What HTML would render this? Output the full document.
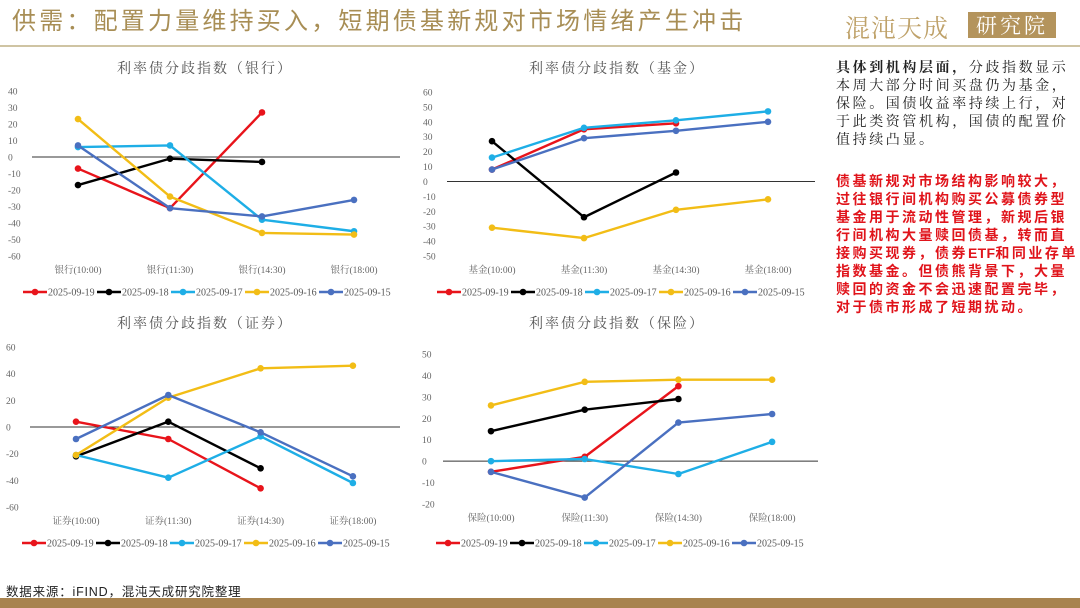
<!DOCTYPE html>
<html><head><meta charset="utf-8">
<style>
html,body{margin:0;padding:0;background:#fff;}
#root{position:relative;width:1080px;height:608px;overflow:hidden;background:#fff;font-family:"Liberation Serif","Noto Serif CJK SC",serif;}
.title{position:absolute;left:12px;top:6px;font-family:"Liberation Sans","Noto Sans CJK SC",sans-serif;font-size:24px;letter-spacing:3.2px;color:#a88e55;white-space:nowrap;line-height:32px;}
.hline{position:absolute;left:0;top:45px;width:1080px;height:2px;background:#cfc4a3;}
.foot{position:absolute;left:0;top:598px;width:1080px;height:10px;background:#a8834f;}
.src{position:absolute;left:6px;top:581px;font-family:"Liberation Sans","Noto Sans CJK SC",sans-serif;font-size:12.5px;color:#222;letter-spacing:0.8px;}
.p1{position:absolute;left:836px;top:58px;font-family:"Liberation Sans","Noto Serif CJK SC",serif;font-size:14px;letter-spacing:2.6px;line-height:18px;color:#222;white-space:nowrap;}
.p2{position:absolute;left:836px;top:172px;font-family:"Liberation Sans","Noto Sans CJK SC",sans-serif;font-size:14px;font-weight:bold;letter-spacing:2.5px;line-height:18px;color:#e0141b;white-space:nowrap;}
.p2 .lat{letter-spacing:0.3px;}
.logo{position:absolute;left:845px;top:9px;font-family:"Noto Serif CJK SC",serif;font-size:25px;color:#bfa26a;letter-spacing:1px;}
.logo2{position:absolute;left:968px;top:12px;width:88px;height:26px;background:#b4945c;color:#fff;font-family:"Noto Serif CJK SC",serif;font-size:21px;line-height:26px;text-align:center;letter-spacing:3px;}
</style></head>
<body>
<div id="root">
<div class="title">供需：配置力量维持买入，短期债基新规对市场情绪产生冲击</div>
<div class="logo">混沌天成</div>
<div class="logo2">研究院</div>
<div class="hline"></div>
<div class="p1"><b>具体到机构层面，</b>分歧指数显示<br>本周大部分时间买盘仍为基金，<br>保险。国债收益率持续上行，对<br>于此类资管机构，国债的配置价<br>值持续凸显。</div>
<div class="p2">债基新规对市场结构影响较大，<br>过往银行间机构购买公募债券型<br>基金用于流动性管理，新规后银<br>行间机构大量赎回债基，转而直<br>接购买现券，债券<span class="lat">ETF</span>和同业存单<br>指数基金。但债熊背景下，大量<br>赎回的资金不会迅速配置完毕，<br>对于债市形成了短期扰动。</div>
<div class="src">数据来源：iFIND，混沌天成研究院整理</div>
<div class="foot"></div>
<svg id="charts" width="1080" height="608" style="position:absolute;left:0;top:0"></svg>
</div>
<script>
const seriesNames = ["2025-09-19","2025-09-18","2025-09-17","2025-09-16","2025-09-15"];
const seriesColors = ["#e8141b","#000000","#1eaee6","#f2bd16","#4a70c0"];

const bankCats = ["银行(10:00)","银行(11:30)","银行(14:30)","银行(18:00)"];
const bankTicks = [40,30,20,10,0,-10,-20,-30,-40,-50,-60];
const bank19 = [-7,-31,27];
const bank18 = [-17,-1,-3];
const bank17 = [6,7,-38,-45];
const bank16 = [23,-24,-46,-47];
const bank15 = [7,-31,-36,-26];

const fundCats = ["基金(10:00)","基金(11:30)","基金(14:30)","基金(18:00)"];
const fundTicks = [60,50,40,30,20,10,0,-10,-20,-30,-40,-50];
const fund19 = [8,35,39];
const fund18 = [27,-24,6];
const fund17 = [16,36,41,47];
const fund16 = [-31,-38,-19,-12];
const fund15 = [8,29,34,40];

const secCats = ["证券(10:00)","证券(11:30)","证券(14:30)","证券(18:00)"];
const secTicks = [60,40,20,0,-20,-40,-60];
const sec19 = [4,-9,-46];
const sec18 = [-22,4,-31];
const sec17 = [-21,-38,-7,-42];
const sec16 = [-21,22,44,46];
const sec15 = [-9,24,-4,-37];

const insCats = ["保险(10:00)","保险(11:30)","保险(14:30)","保险(18:00)"];
const insTicks = [50,40,30,20,10,0,-10,-20];
const ins19 = [-5,2,35];
const ins18 = [14,24,29];
const ins17 = [0,1,-6,9];
const ins16 = [26,37,38,38];
const ins15 = [-5,-17,18,22];

const NS="http://www.w3.org/2000/svg";
const svg=document.getElementById('charts');
function mk(tag,attrs,parent){const e=document.createElementNS(NS,tag);for(const k in attrs)e.setAttribute(k,attrs[k]);(parent||svg).appendChild(e);return e;}

function drawChart(cfg){
  const g=mk('g',{});
  
  
  const ymax=cfg.ticks[0], ymin=cfg.ticks[cfg.ticks.length-1];
  const y=v=>cfg.yTop+(ymax-v)/(ymax-ymin)*(cfg.yBot-cfg.yTop);
  const x=i=>cfg.x0+i*cfg.dx;
  const t=mk('text',{x:cfg.titleX,y:cfg.titleY,'text-anchor':'middle','font-size':14,fill:'#555','letter-spacing':2,'font-family':'"Liberation Serif","Noto Serif CJK SC",serif'},g);
  t.textContent=cfg.title;
  
  
  cfg.ticks.forEach(v=>{
    const tl=mk('text',{x:cfg.tickX,y:y(v)+3.5,'text-anchor':'start','font-size':9.5,fill:'#666','font-family':'"Liberation Serif",serif'},g);
    tl.textContent=v;
    
    
  });
  const ax=mk('line',{x1:cfg.axisL,x2:cfg.axisR,y1:y(0),y2:y(0),stroke:'#333','stroke-width':1},g);
  
  
  cfg.cats.forEach((c,i)=>{
    const cl=mk('text',{x:x(i),y:cfg.yBot+17,'text-anchor':'middle','font-size':9.5,fill:'#666','font-family':'"Liberation Serif","Noto Serif CJK SC",serif'},g);
    cl.textContent=c;
    
    
  });
  cfg.series.forEach((s,si)=>{
    const pts=s.map((v,i)=>x(i)+','+y(v)).join(' ');
    const pl=mk('polyline',{points:pts,fill:'none',stroke:seriesColors[si],'stroke-width':2.4,'stroke-linejoin':'round'},g);
    
    
    s.forEach((v,i)=>{
      const c=mk('circle',{cx:x(i),cy:y(v),r:3.3,fill:seriesColors[si]},g);
      
      
    });
  });
  seriesNames.forEach((n,si)=>{
    const lx=cfg.legX+si*74, ly=cfg.legY;
    const lg=mk('g',{},g);
    
    
    mk('line',{x1:lx,x2:lx+24,y1:ly,y2:ly,stroke:seriesColors[si],'stroke-width':2.4},lg);
    mk('circle',{cx:lx+12,cy:ly,r:3.3,fill:seriesColors[si]},lg);
    const tx=mk('text',{x:lx+25,y:ly+3.5,'font-size':10,fill:'#555','font-family':'"Liberation Serif",serif'},lg);
    tx.textContent=n;
  });
}

drawChart({name:'chart-bank',title:'利率债分歧指数（银行）',titleX:205,titleY:73,cats:bankCats,ticks:bankTicks,
  series:[bank19,bank18,bank17,bank16,bank15],yTop:91,yBot:256,x0:78,dx:92,tickX:8,axisL:32,axisR:400,legX:23,legY:292});
drawChart({name:'chart-fund',title:'利率债分歧指数（基金）',titleX:617,titleY:73,cats:fundCats,ticks:fundTicks,
  series:[fund19,fund18,fund17,fund16,fund15],yTop:92,yBot:256,x0:492,dx:92,tickX:423,axisL:447,axisR:815,legX:437,legY:292});
drawChart({name:'chart-securities',title:'利率债分歧指数（证券）',titleX:205,titleY:328,cats:secCats,ticks:secTicks,
  series:[sec19,sec18,sec17,sec16,sec15],yTop:347,yBot:507,x0:76,dx:92.3,tickX:6,axisL:30,axisR:400,legX:22,legY:543});
drawChart({name:'chart-insurance',title:'利率债分歧指数（保险）',titleX:617,titleY:328,cats:insCats,ticks:insTicks,
  series:[ins19,ins18,ins17,ins16,ins15],yTop:354,yBot:504,x0:491,dx:93.7,tickX:422,axisL:443,axisR:818,legX:436,legY:543});
</script>
</body></html>
